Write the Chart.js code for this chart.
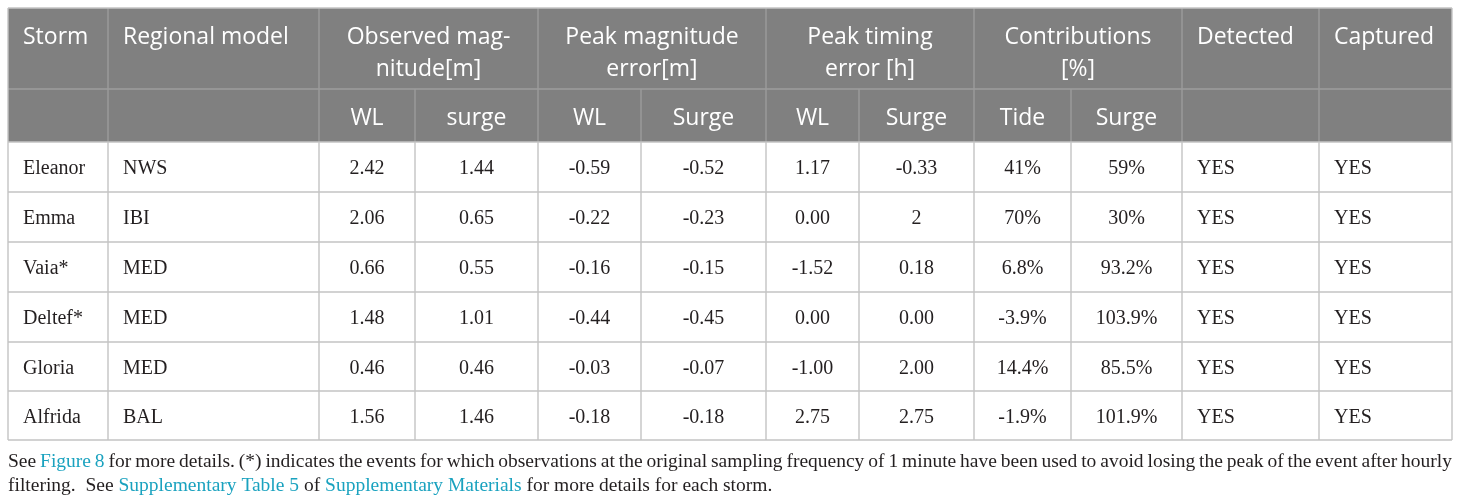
<!DOCTYPE html>
<html>
<head>
<meta charset="utf-8">
<script src="https://cdn.jsdelivr.net/npm/chart.js@4/dist/chart.umd.min.js"></script>
<style>
  html, body { margin: 0; padding: 0; background: #fff; }
  #wrap { width: 1460px; height: 504px; }
</style>
</head>
<body>
<div id="wrap"><canvas id="tableChart" width="1460" height="504"></canvas></div>
<script>
// table content
const storms = ['Eleanor', 'Emma', 'Vaia*', 'Deltef*', 'Gloria', 'Alfrida'];
const models = ['NWS', 'IBI', 'MED', 'MED', 'MED', 'BAL'];
const obsWL = ['2.42', '2.06', '0.66', '1.48', '0.46', '1.56'];
const obsSurge = ['1.44', '0.65', '0.55', '1.01', '0.46', '1.46'];
const errWL = ['-0.59', '-0.22', '-0.16', '-0.44', '-0.03', '-0.18'];
const errSurge = ['-0.52', '-0.23', '-0.15', '-0.45', '-0.07', '-0.18'];
const timeWL = ['1.17', '0.00', '-1.52', '0.00', '-1.00', '2.75'];
const timeSurge = ['-0.33', '2', '0.18', '0.00', '2.00', '2.75'];
const tideContrib = ['41%', '70%', '6.8%', '-3.9%', '14.4%', '-1.9%'];
const surgeContrib = ['59%', '30%', '93.2%', '103.9%', '85.5%', '101.9%'];
const detected = ['YES', 'YES', 'YES', 'YES', 'YES', 'YES'];
const captured = ['YES', 'YES', 'YES', 'YES', 'YES', 'YES'];

const headTop = [
  { text: ['Storm'], from: 0, to: 0, align: 'left' },
  { text: ['Regional model'], from: 1, to: 1, align: 'left' },
  { text: ['Observed mag-', 'nitude[m]'], from: 2, to: 3, align: 'center' },
  { text: ['Peak magnitude', 'error[m]'], from: 4, to: 5, align: 'center' },
  { text: ['Peak timing', 'error [h]'], from: 6, to: 7, align: 'center' },
  { text: ['Contributions', '[%]'], from: 8, to: 9, align: 'center' },
  { text: ['Detected'], from: 10, to: 10, align: 'left' },
  { text: ['Captured'], from: 11, to: 11, align: 'left' }
];
const headSub = ['', '', 'WL', 'surge', 'WL', 'Surge', 'WL', 'Surge', 'Tide', 'Surge', '', ''];

const footLine1 = [
  ['See ', 0], ['Figure 8', 1], [' for more details. (*) indicates the events for which observations at the original sampling frequency of 1 minute have been used to avoid losing the peak of the event after hourly', 0]
];
const footLine2 = [
  ['filtering.  See ', 0], ['Supplementary Table 5', 1], [' of ', 0], ['Supplementary Materials', 1], [' for more details for each storm.', 0]
];

// layout (in scale units)
const colEdges = [8, 108, 319, 415, 538, 641, 766, 859, 974, 1071, 1182, 1319, 1452];
const rowEdges = [8, 89, 142, 192, 242, 292, 342, 391, 440];
const colAlign = ['left', 'left', 'center', 'center', 'center', 'center', 'center', 'center', 'center', 'center', 'left', 'left'];
const columns = [storms, models, obsWL, obsSurge, errWL, errSurge, timeWL, timeSurge, tideContrib, surgeContrib, detected, captured];

const headFont = '23px "Open Sans"';
const bodyFont = '20px "Liberation Serif"';
const footFont = '19.5px "Liberation Serif"';

function textX(sx, c0, c1, align, pad) {
  if (align === 'left') return sx.getPixelForValue(colEdges[c0]) + pad;
  return (sx.getPixelForValue(colEdges[c0]) + sx.getPixelForValue(colEdges[c1 + 1])) / 2;
}

function drawRuns(ctx, runs, x0, x1, y, justify) {
  // split into words, keep link flag
  const words = [];
  runs.forEach(([txt, link]) => {
    txt.split(/( +)/).forEach(part => {
      if (part === '') return;
      if (/^ +$/.test(part)) words.push({ space: part.length });
      else words.push({ txt: part, link });
    });
  });
  const spaceW = ctx.measureText(' ').width;
  let textW = 0, spaces = 0;
  words.forEach(w => {
    if (w.txt) textW += ctx.measureText(w.txt).width;
    else spaces += w.space;
  });
  const sw = justify ? (x1 - x0 - textW) / spaces : spaceW;
  let x = x0;
  words.forEach(w => {
    if (w.txt) {
      ctx.fillStyle = w.link ? '#1aa2bf' : '#231f20';
      ctx.fillText(w.txt, x, y);
      x += ctx.measureText(w.txt).width;
    } else {
      x += sw * w.space;
    }
  });
}

const tablePlugin = {
  id: 'tablePlugin',
  afterDraw(chart) {
    const ctx = chart.ctx;
    const sx = chart.scales.x, sy = chart.scales.y;
    const X = v => sx.getPixelForValue(v);
    const Y = v => sy.getPixelForValue(v);
    const left = X(colEdges[0]), right = X(colEdges[colEdges.length - 1]);
    ctx.save();

    // header background
    ctx.fillStyle = '#808080';
    ctx.fillRect(left, Y(rowEdges[0]), right - left, Y(rowEdges[2]) - Y(rowEdges[0]));

    // header grid
    ctx.strokeStyle = '#9d9d9d';
    ctx.lineWidth = 1.3;
    ctx.beginPath();
    ctx.moveTo(left, Y(rowEdges[1])); ctx.lineTo(right, Y(rowEdges[1]));
    headTop.forEach(h => {
      if (h.from > 0) { ctx.moveTo(X(colEdges[h.from]), Y(rowEdges[0])); ctx.lineTo(X(colEdges[h.from]), Y(rowEdges[1])); }
    });
    for (let c = 1; c < colEdges.length - 1; c++) {
      ctx.moveTo(X(colEdges[c]), Y(rowEdges[1])); ctx.lineTo(X(colEdges[c]), Y(rowEdges[2]));
    }
    ctx.stroke();

    // body grid
    ctx.strokeStyle = '#c4c4c4';
    ctx.lineWidth = 1.4;
    ctx.beginPath();
    for (let r = 2; r < rowEdges.length; r++) {
      ctx.moveTo(left, Y(rowEdges[r])); ctx.lineTo(right, Y(rowEdges[r]));
    }
    for (let c = 0; c < colEdges.length; c++) {
      ctx.moveTo(X(colEdges[c]), Y(rowEdges[2])); ctx.lineTo(X(colEdges[c]), Y(rowEdges[rowEdges.length - 1]));
    }
    ctx.moveTo(left, Y(rowEdges[0])); ctx.lineTo(right, Y(rowEdges[0]));
    ctx.moveTo(left, Y(rowEdges[0])); ctx.lineTo(left, Y(rowEdges[2]));
    ctx.moveTo(right, Y(rowEdges[0])); ctx.lineTo(right, Y(rowEdges[2]));
    ctx.stroke();

    // header text
    ctx.fillStyle = '#ffffff';
    ctx.font = headFont;
    ctx.textBaseline = 'middle';
    headTop.forEach(h => {
      ctx.textAlign = h.align;
      const x = textX(sx, h.from, h.to, h.align, 15);
      h.text.forEach((t, i) => ctx.fillText(t, x, Y(rowEdges[0]) + 29 + i * 32));
    });
    const subY = (Y(rowEdges[1]) + Y(rowEdges[2])) / 2 + 3;
    headSub.forEach((t, c) => {
      if (!t) return;
      ctx.textAlign = 'center';
      ctx.fillText(t, textX(sx, c, c, 'center', 0), subY);
    });

    // body text
    ctx.fillStyle = '#231f20';
    ctx.font = bodyFont;
    columns.forEach((col, c) => {
      ctx.textAlign = colAlign[c];
      col.forEach((val, r) => {
        const y = (Y(rowEdges[r + 2]) + Y(rowEdges[r + 3])) / 2 + 2;
        ctx.fillText(val, textX(sx, c, c, colAlign[c], 15), y);
      });
    });

    // footnote
    ctx.font = footFont;
    ctx.textAlign = 'left';
    drawRuns(ctx, footLine1, left, right, Y(462), true);
    drawRuns(ctx, footLine2, left, right, Y(486), false);

    ctx.restore();
  }
};

new Chart(document.getElementById('tableChart'), {
  type: 'scatter',
  data: { datasets: [{ data: [] }] },
  options: {
    responsive: false,
    animation: false,
    layout: { padding: 0 },
    plugins: { legend: { display: false }, tooltip: { enabled: false } },
    scales: {
      x: { type: 'linear', min: 0, max: 1460, display: false },
      y: { type: 'linear', min: 0, max: 504, reverse: true, display: false }
    }
  },
  plugins: [tablePlugin]
});
</script>
</body>
</html>
